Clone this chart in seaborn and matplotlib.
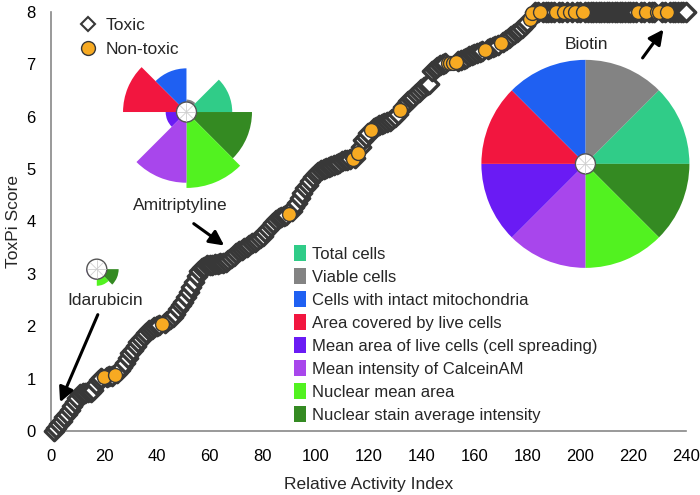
import numpy as np
import pandas as pd
import matplotlib
matplotlib.use('Agg')
import matplotlib.pyplot as plt
from matplotlib.patches import Wedge, Circle, Patch
from matplotlib.lines import Line2D
from matplotlib.transforms import ScaledTranslation
import seaborn as sns

# ranked chemicals (x) and their ToxPi score (y)
activity_index = list(range(1, 241))
toxpi_score = [
    0.00, 0.06, 0.13, 0.20, 0.27, 0.33, 0.40, 0.47, 0.55, 0.63,
    0.70, 0.72, 0.73, 0.74, 0.75, 0.78, 0.90, 0.97, 1.02, 1.04,
    1.04, 1.05, 1.05, 1.06, 1.10, 1.16, 1.22, 1.30, 1.40, 1.48,
    1.55, 1.62, 1.70, 1.76, 1.82, 1.88, 1.92, 1.95, 1.98, 2.00,
    2.02, 2.04, 2.07, 2.10, 2.14, 2.18, 2.24, 2.32, 2.40, 2.46,
    2.55, 2.65, 2.75, 2.85, 2.95, 3.05, 3.12, 3.14, 3.16, 3.17,
    3.17, 3.18, 3.19, 3.20, 3.21, 3.23, 3.27, 3.31, 3.35, 3.40,
    3.43, 3.46, 3.49, 3.52, 3.55, 3.58, 3.61, 3.64, 3.68, 3.73,
    3.79, 3.85, 3.91, 3.97, 4.03, 4.06, 4.08, 4.10, 4.12, 4.14,
    4.20, 4.27, 4.35, 4.45, 4.55, 4.63, 4.70, 4.78, 4.85, 4.90,
    4.94, 4.98, 5.00, 5.02, 5.04, 5.06, 5.08, 5.10, 5.12, 5.15,
    5.17, 5.18, 5.19, 5.20, 5.22, 5.30, 5.42, 5.55, 5.62, 5.68,
    5.74, 5.78, 5.81, 5.84, 5.86, 5.88, 5.90, 5.92, 5.95, 6.00,
    6.06, 6.12, 6.18, 6.24, 6.30, 6.34, 6.38, 6.43, 6.48, 6.53,
    6.57, 6.60, 6.63, 6.88, 6.92, 6.95, 6.98, 7.00, 7.02, 7.02,
    7.02, 7.03, 7.04, 7.06, 7.08, 7.10, 7.12, 7.15, 7.17, 7.19,
    7.21, 7.23, 7.25, 7.27, 7.29, 7.31, 7.33, 7.35, 7.37, 7.40,
    7.43, 7.46, 7.50, 7.54, 7.58, 7.62, 7.66, 7.70, 7.75, 7.80,
    7.86, 7.98, 8.00, 8.00, 8.00, 8.00, 8.00, 8.00, 8.00, 8.00,
    8.00, 8.00, 8.00, 8.00, 8.00, 8.00, 8.00, 8.00, 8.00, 8.00,
    8.00, 8.00, 8.00, 8.00, 8.00, 8.00, 8.00, 8.00, 8.00, 8.00,
    8.00, 8.00, 8.00, 8.00, 8.00, 8.00, 8.00, 8.00, 8.00, 8.00,
    8.00, 8.00, 8.00, 8.00, 8.00, 8.00, 8.00, 8.00, 8.00, 8.00,
    8.00, 8.00, 8.00, 8.00, 8.00, 8.00, 8.00, 8.00, 8.00, 8.00,
]
nontoxic_index = [20, 24, 42, 90, 114, 116, 121, 132, 150, 151, 152, 153,
                  164, 170, 181, 182, 185, 191, 194, 196, 198, 201,
                  222, 225, 229, 230, 233]

measures = ['Total cells', 'Viable cells', 'Cells with intact mitochondria',
            'Area covered by live cells', 'Mean area of live cells (cell spreading)',
            'Mean intensity of CalceinAM', 'Nuclear mean area',
            'Nuclear stain average intensity']
measure_colors = ['#30CC88', '#838383', '#1F60F2', '#F2163F',
                  '#6A1BF4', '#A846EC', '#52F220', '#348A22']

# pie slices, clockwise from 12 o'clock
slice_order = ['Viable cells', 'Total cells', 'Nuclear stain average intensity',
               'Nuclear mean area', 'Mean intensity of CalceinAM',
               'Mean area of live cells (cell spreading)',
               'Area covered by live cells', 'Cells with intact mitochondria']
biotin_slices = [1.0, 1.0, 1.0, 1.0, 1.0, 1.0, 1.0, 1.0]
amitriptyline_slices = [0.12, 0.44, 0.63, 0.73, 0.68, 0.20, 0.61, 0.42]
idarubicin_slices = [0.08, 0.08, 0.21, 0.16, 0.10, 0.10, 0.05, 0.05]

df = pd.DataFrame({'index': activity_index, 'score': toxpi_score})
df['cls'] = np.where(df['index'].isin(nontoxic_index), 'Non-toxic', 'Toxic')

sns.set_theme(style='white')
plt.rcParams['font.family'] = ['Liberation Sans', 'DejaVu Sans']

fig = plt.figure(figsize=(7, 4.95), dpi=100)
ax = fig.add_axes([0.0729, 0.1293, 0.907, 0.8465])

edge = '#383838'
orange = '#F7AA22'
sns.scatterplot(data=df[df.cls == 'Toxic'], x='index', y='score', marker='D',
                s=88, color='white', edgecolor=edge, linewidth=2.4,
                clip_on=False, zorder=3, ax=ax)
sns.scatterplot(data=df[df.cls == 'Non-toxic'], x='index', y='score', marker='o',
                s=100, color=orange, edgecolor=edge, linewidth=1.0,
                clip_on=False, zorder=4, ax=ax)

ax.set_xlim(0, 240)
ax.set_ylim(0, 8)
ax.set_xticks(range(0, 241, 20))
ax.set_yticks(range(0, 9))
ax.tick_params(direction='in', length=5, width=1, color='#888888',
               labelsize=12, labelcolor='black')
ax.tick_params(axis='x', pad=13)
ax.tick_params(axis='y', pad=11)
for s in ['top', 'right']:
    ax.spines[s].set_visible(False)
for s in ['left', 'bottom']:
    ax.spines[s].set_color('#888888')
    ax.spines[s].set_linewidth(1.2)
ax.set_xlabel('Relative Activity Index', fontsize=12.5, labelpad=9)
ax.set_ylabel('ToxPi Score', fontsize=12.5, labelpad=4)

color_of = dict(zip(measures, measure_colors))


def draw_toxpi(cx, cy, fractions, radius=1.04, hole=0.1):
    trans = fig.dpi_scale_trans + ScaledTranslation(cx, cy, ax.transData)
    for k, (name, frac) in enumerate(zip(slice_order, fractions)):
        theta2 = 90 - 45 * k
        ax.add_patch(Wedge((0, 0), radius * frac, theta2 - 45, theta2,
                           transform=trans, facecolor=color_of[name],
                           edgecolor='none', clip_on=False, zorder=5))
    ax.add_patch(Circle((0, 0), hole, transform=trans, facecolor='white',
                        edgecolor='#555555', lw=1, clip_on=False, zorder=6))
    for a in np.deg2rad(np.arange(0, 360, 45)):
        ax.plot([0, hole * 0.9 * np.cos(a)], [0, hole * 0.9 * np.sin(a)],
                transform=trans, color='#cfcfcf', lw=0.6, zorder=7, clip_on=False)


draw_toxpi(202, 5.1, biotin_slices)
draw_toxpi(51.2, 6.09, amitriptyline_slices)
draw_toxpi(17.3, 3.09, idarubicin_slices)

arrow = dict(arrowstyle='-|>', color='black', lw=2.2, mutation_scale=22)
ax.annotate('', xy=(3.0, 0.5), xytext=(18.1, 2.27), arrowprops=arrow)
ax.annotate('', xy=(66.3, 3.51), xytext=(53.1, 3.99), arrowprops=arrow)
ax.annotate('', xy=(232.1, 7.71), xytext=(223, 7.08), arrowprops=arrow)
ax.text(20.3, 2.5, 'Idarubicin', fontsize=12.5, ha='center', va='center')
ax.text(49, 4.31, 'Amitriptyline', fontsize=12.5, ha='center', va='center')
ax.text(202.3, 7.37, 'Biotin', fontsize=12.5, ha='center', va='center')

# class legend (top left)
cls_handles = [
    Line2D([], [], marker='D', ls='none', markersize=7, markerfacecolor='white',
           markeredgecolor=edge, markeredgewidth=1.5),
    Line2D([], [], marker='o', ls='none', markersize=10, markerfacecolor=orange,
           markeredgecolor=edge, markeredgewidth=1.0),
]
fig.legend(cls_handles, ['Toxic', 'Non-toxic'], loc='upper left',
           bbox_to_anchor=(0.091, 0.995), frameon=False, fontsize=12.5,
           handlelength=1.0, handletextpad=0.5, labelspacing=0.5)

# measure legend
measure_handles = [Patch(facecolor=c, edgecolor='none') for c in measure_colors]
fig.legend(measure_handles, measures, loc='upper left',
           bbox_to_anchor=(0.398, 0.535), frameon=False, fontsize=12,
           handlelength=0.75, handleheight=1.1, handletextpad=0.35,
           labelspacing=0.38)

fig.savefig('out.png', dpi=100)
